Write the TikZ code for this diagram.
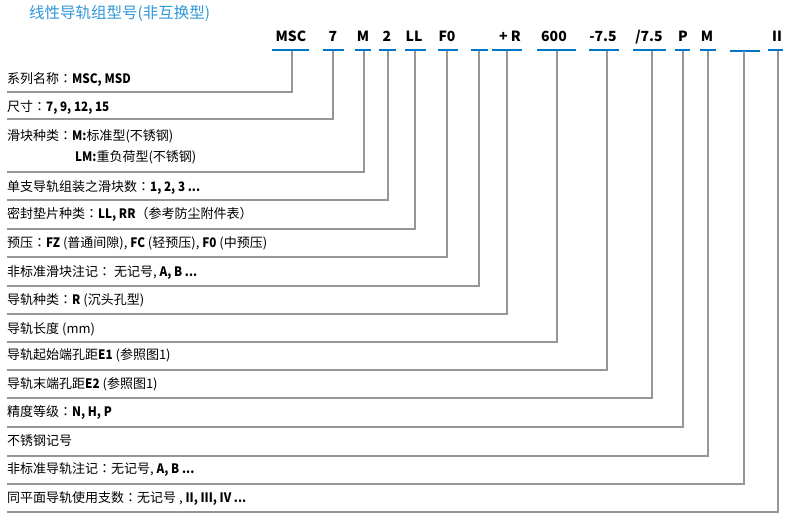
\documentclass[tikz,border=0pt]{standalone}
\usepackage{fontspec}
\setmainfont{Noto Sans CJK SC}[BoldFeatures={FakeStretch=0.9}]
\newfontfamily\codefont{Noto Sans CJK SC}
\newfontfamily\tcfont{Noto Sans CJK TC}
\newcommand{\fcolon}{{\tcfont ：}}
\definecolor{titleblue}{RGB}{48,150,215}
\definecolor{barblue}{RGB}{0,118,200}
\definecolor{leadgray}{RGB}{150,150,150}
\tikzset{
  code/.style={font=\codefont\fontsize{14}{16}\selectfont\bfseries,anchor=base,inner sep=0pt},
  note/.style={font=\fontsize{13}{15}\selectfont,anchor=base west,inner sep=0pt},
  bar/.style={draw=barblue,line width=2pt},
  leader/.style={draw=leadgray,line width=1.2pt}
}

\begin{document}
\begin{tikzpicture}[x=1pt,y=-1pt]
\useasboundingbox (0,0) rectangle (790,517);
\node[anchor=west,inner sep=0pt,text=titleblue,font=\fontsize{15.5}{17}\selectfont] (title) at (29,13.5) {线性导轨组型号(非互换型)};
\node[code] (cMSC) at (291,41) {MSC};
\node[code] (cSize) at (333,41) {7};
\node[code] (cBlock) at (363,41) {M};
\node[code] (cNum) at (387,41) {2};
\node[code] (cSeal) at (414,41) {LL};
\node[code] (cPre) at (447,41) {F0};
\node[code] (cRail) at (510,41) {+ R};
\node[code] (cLen) at (554,41) {600};
\node[code] (cEa) at (603,41) {-7.5};
\node[code] (cEb) at (649,41) {/7.5};
\node[code] (cAcc) at (683,41) {P};
\node[code] (cSus) at (707,41) {M};
\node[code] (cPcs) at (777,41) {II};
\draw[bar] (272,50) -- (309,50);
\draw[bar] (323,50) -- (344,50);
\draw[bar] (355,50) -- (371,50);
\draw[bar] (379,50) -- (396,50);
\draw[bar] (405,50) -- (426,50);
\draw[bar] (438,50) -- (458,50);
\draw[bar] (471,50) -- (488,50);
\draw[bar] (492,50) -- (522,50);
\draw[bar] (537,50) -- (576,50);
\draw[bar] (589,50) -- (619,50);
\draw[bar] (633,50) -- (666,50);
\draw[bar] (675,50) -- (690,50);
\draw[bar] (700,50) -- (716,50);
\draw[bar] (730,50.5) -- (760,50.5);
\draw[bar] (768,50) -- (783,50);
\coordinate (uMSC) at (292,51);
\coordinate (uSize) at (333,51);
\coordinate (uBlock) at (364,51);
\coordinate (uNum) at (388,51);
\coordinate (uSeal) at (415,51);
\coordinate (uPre) at (447,51);
\coordinate (uMark) at (479,51);
\coordinate (uRail) at (507,51);
\coordinate (uLen) at (557,51);
\coordinate (uEa) at (607,51);
\coordinate (uEb) at (652,51);
\coordinate (uAcc) at (683,51);
\coordinate (uSus) at (708,51);
\coordinate (uRmark) at (744,51);
\coordinate (uPcs) at (778,51);
\node[note] (tMSC) at (7,83) {系列名称\fcolon\textbf{MSC, MSD}};
\node[note] (tSize) at (7,111) {尺寸\fcolon\textbf{7, 9, 12, 15}};
\node[note] (tBlock) at (7,140) {滑块种类\fcolon\textbf{M:}标准型(不锈钢)};
\node[note] (tBlockLM) at (75,161) {\textbf{LM:}重负荷型(不锈钢)};
\node[note] (tNum) at (7,191) {单支导轨组装之滑块数\fcolon\textbf{1, 2, 3 ...}};
\node[note] (tSeal) at (7,218) {密封垫片种类\fcolon\textbf{LL, RR}（参考防尘附件表）};
\node[note] (tPre) at (7,247) {预压\fcolon\textbf{FZ} (普通间隙), \textbf{FC} (轻预压), \textbf{F0} (中预压)};
\node[note] (tMark) at (7,276) {非标准滑块注记\fcolon\ 无记号, \textbf{A, B ...}};
\node[note] (tRail) at (7,304) {导轨种类\fcolon\textbf{R} (沉头孔型)};
\node[note] (tLen) at (7,333) {导轨长度 (mm)};
\node[note] (tEa) at (7,359) {导轨起始端孔距\textbf{E1} (参照图1)};
\node[note] (tEb) at (7,388) {导轨末端孔距\textbf{E2} (参照图1)};
\node[note] (tAcc) at (7,416) {精度等级\fcolon\textbf{N, H, P}};
\node[note] (tSus) at (7,445) {不锈钢记号};
\node[note] (tRmark) at (7,473) {非标准导轨注记\fcolon 无记号, \textbf{A, B ...}};
\node[note] (tPcs) at (7,502) {同平面导轨使用支数\fcolon 无记号 , \textbf{II, III, IV ...}};
\coordinate (eMSC) at (7,92);
\coordinate (eSize) at (7,119);
\coordinate (eBlock) at (7,172);
\coordinate (eNum) at (7,200);
\coordinate (eSeal) at (7,229);
\coordinate (ePre) at (7,257);
\coordinate (eMark) at (7,286);
\coordinate (eRail) at (7,314);
\coordinate (eLen) at (7,342);
\coordinate (eEa) at (7,370);
\coordinate (eEb) at (7,398);
\coordinate (eAcc) at (7,427);
\coordinate (eSus) at (7,456);
\coordinate (eRmark) at (7,484);
\coordinate (ePcs) at (7,512);
\draw[leader] (uMSC) |- (eMSC);
\draw[leader] (uSize) |- (eSize);
\draw[leader] (uBlock) |- (eBlock);
\draw[leader] (uNum) |- (eNum);
\draw[leader] (uSeal) |- (eSeal);
\draw[leader] (uPre) |- (ePre);
\draw[leader] (uMark) |- (eMark);
\draw[leader] (uRail) |- (eRail);
\draw[leader] (uLen) |- (eLen);
\draw[leader] (uEa) |- (eEa);
\draw[leader] (uEb) |- (eEb);
\draw[leader] (uAcc) |- (eAcc);
\draw[leader] (uSus) |- (eSus);
\draw[leader] (uRmark) |- (eRmark);
\draw[leader] (uPcs) |- (ePcs);
\end{tikzpicture}
\end{document}
